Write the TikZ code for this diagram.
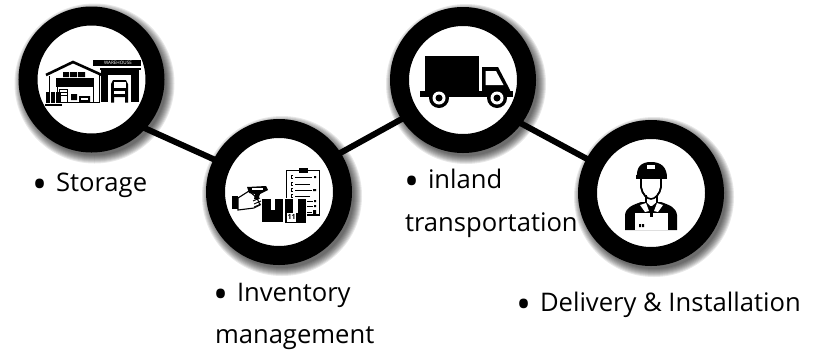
\documentclass[tikz,border=0pt]{standalone}
\usepackage{fontspec}
\setmainfont{Open Sans}
\usetikzlibrary{backgrounds}
\tikzset{
  x=1pt,y=-1pt,
  ring/.style={circle,draw=black,fill=white,line width=19pt,minimum size=127pt,inner sep=0pt,outer sep=0pt},
  link/.style={draw=black,line width=6pt},
  lbl/.style={anchor=base west,inner sep=0pt,outer sep=0pt,font=\fontsize{25.6pt}{28pt}\selectfont,text=black},
  ink/.style={fill=black,draw=none},
  blank/.style={fill=white,draw=none},
}
\newcommand{\softshadow}[2]{%
  \foreach \rr in {80,79,78,77,76,75,74,73,72}{\fill[black,fill opacity=0.09] (#1+3,#2+4) circle[radius=\rr pt];}}
\newcommand{\bul}{\makebox[21pt][l]{\hspace*{-2.6pt}\raisebox{-7pt}{\fontsize{40pt}{40pt}\selectfont •}}}
\begin{document}
\begin{tikzpicture}
\useasboundingbox (0,0) rectangle (818,349);
\softshadow{91.5}{79.5}
\softshadow{279}{192}
\softshadow{463}{80}
\softshadow{651}{193}
\node[ring] (c1) at (91.5,79.5) {};
\node[ring] (c2) at (279,192) {};
\node[ring] (c3) at (463,80) {};
\node[ring] (c4) at (651,193) {};
\begin{scope}[on background layer]
  \draw[link] (c1.-45) -- (c2.153);
  \draw[link] (c2.33) -- (c3.213);
  \draw[link] (c3.-38) -- (c4.152);
\end{scope}
% warehouse
\draw[line width=2.6pt,line join=miter] (46,75) -- (73,62) -- (103,75.5);
\draw[line width=1pt] (49,76) -- (49,102) -- (99,102) -- (99,74);
\fill[ink] (63,72) rectangle (69,77) (70,72) rectangle (77,77) (78,72) rectangle (85,77);
\fill[ink] (56,78) rectangle (94,87);
\draw[line width=.8pt] (57,87) -- (57,102) (93,87) -- (93,102);
\draw[line width=.8pt] (59,89) rectangle (67,102);
\draw[line width=.5pt] (59,92) -- (67,92) (59,95) -- (67,95);
\fill[ink] (71,94) rectangle (77,100) (79,96) rectangle (90,102);
\fill[blank] (81,97.5) rectangle (88,100);
\fill[ink] (46,92) rectangle (61,103);
\fill[ink] (45,104) rectangle (62,105.5);
\draw[white,line width=.5pt] (50,92) -- (50,103) (55,92) -- (55,103);
\fill[ink] (93,60) rectangle (141,66);
\node[inner sep=0pt,text=white,font=\fontsize{4.6pt}{5pt}\selectfont] (whsign) at (118,63) {WAREHOUSE};
\fill[ink] (100,67.5) rectangle (141,69.5);
\fill[ink] (101,69) rectangle (139,102);
\fill[blank] (108,73) rectangle (131,102);
\fill[ink] (108,73) rectangle (131,75);
\fill[ink] (111,84) -- (113,80) -- (126,80) -- (128,84) -- (128,97) -- (111,97) -- cycle;
\fill[blank] (113.5,82) rectangle (125.5,88);
\fill[blank] (114,91) rectangle (125,93.5);
\fill[ink] (111,97) rectangle (114,102.5) (125,97) rectangle (128,102.5);
% scanner, boxes, clipboard
\fill[ink] (232,196) rectangle (238,209);
\draw[line width=1.1pt,fill=white] (238,198) -- (249,191) -- (257,198) -- (260,205) -- (254,208) -- (238,210) -- cycle;
\fill[ink] (247,187) -- (266,186) -- (268,190) -- (260,194) -- (258,200) -- (254,199) -- (255,194) -- (249,193) -- cycle;
\fill[blank] (252,188.3) rectangle (263,190);
\draw[line width=.9pt] (253,201) -- (260,198) (254,204) -- (261,201) (254,207) -- (261,204);
\fill[blank] (286,170) rectangle (320,215);
\draw[line width=1.3pt] (286.5,170.5) rectangle (319.5,215);
\fill[ink] (299,168) rectangle (308,172.5);
\foreach \yy/\xb in {177/312,184/310,190/312,196/310}{
  \draw[line width=1pt] (295,\yy) -- (\xb,\yy);
  \draw[line width=.8pt] (293,\yy-1.5) -- (291,\yy-1.5) -- (291,\yy+1.5) -- (293,\yy+1.5);
}
\fill[ink] (314,176) rectangle (316,178) (313,189) rectangle (316,191);
\draw[line width=1pt] (306,201) -- (313,201) (306,206) -- (313,206) (306,212) -- (312,212);
\fill[ink] (314,200) rectangle (316,202) (314,205) rectangle (316,207) (313,210) rectangle (316,214);
\fill[ink] (262,199) rectangle (283,222);
\fill[blank] (271,199) rectangle (275,210);
\fill[blank] (284,198) rectangle (307,224);
\fill[ink] (285,199) rectangle (306,223);
\fill[blank] (293,199) rectangle (298,213);
\fill[blank] (287,213) rectangle (296,221);
\node[inner sep=0pt,text=black,font=\bfseries\fontsize{7pt}{8pt}\selectfont] (boxno) at (291.5,217) {11};
\draw[white,line width=.6pt] (287,221.6) -- (296,221.6);
% truck
\fill[ink] (425,56) rectangle (479,91);
\fill[ink] (482,67) -- (498,67) -- (510,90) -- (510,92) -- (482,92) -- cycle;
\fill[blank] (485.5,71) -- (496,71) -- (503.5,85) -- (485.5,85) -- cycle;
\fill[ink] (420,91) rectangle (513,97);
\foreach \wx in {439,497}{
  \fill[black] (\wx,98) circle[radius=10pt];
  \fill[white] (\wx,98) circle[radius=6.5pt];
  \fill[black] (\wx,98) circle[radius=3.5pt];
}
% person
\fill[ink] (625,230) -- (625,215) .. controls (626,207) and (633,205) .. (641,202) -- (661,202) .. controls (669,205) and (676,207) .. (677,215) -- (677,230) -- cycle;
\draw[line width=1.6pt,fill=white] (641,178) -- (641,187) .. controls (642,194) and (647,199) .. (651,199) .. controls (655,199) and (660,194) .. (661,187) -- (661,178) -- cycle;
\draw[line width=1.6pt,fill=white] (646,195) -- (646,203) -- (651,208) -- (657,203) -- (657,195);
\fill[blank] (647,190) rectangle (656,200);
\draw[line width=1.6pt] (641,187) .. controls (642,194) and (647,199) .. (651,199) .. controls (655,199) and (660,194) .. (661,187);
\fill[ink] (637,178) .. controls (636,167) and (641,162) .. (651,162) .. controls (661,162) and (667,167) .. (667,178) -- cycle;
\fill[ink] (636,175) rectangle (667,178.5);
\fill[blank] (647,164.5) rectangle (655,168.5);
\fill[blank] (640,205) -- (646,203) -- (649,211) -- (645,212) -- cycle;
\fill[blank] (663,205) -- (657,203) -- (654,211) -- (658,212) -- cycle;
\fill[blank] (635,213) rectangle (668,229.5);
\fill[ink] (650,206) rectangle (653,217);
\fill[ink] (639,224) rectangle (641,227) (642,224) rectangle (644,227);
% labels
\node[lbl] (t1) at (35,191) {\bul Storage};
\node[lbl] (t2) at (216,301) {\bul Inventory};
\node[lbl] (t3) at (215,343.5) {management};
\node[lbl] (t4) at (407,188) {\bul inland};
\node[lbl] (t5) at (405,231) {transportation};
\node[lbl] (t6) at (519,311) {\bul Delivery \& Installation};
\end{tikzpicture}
\end{document}
